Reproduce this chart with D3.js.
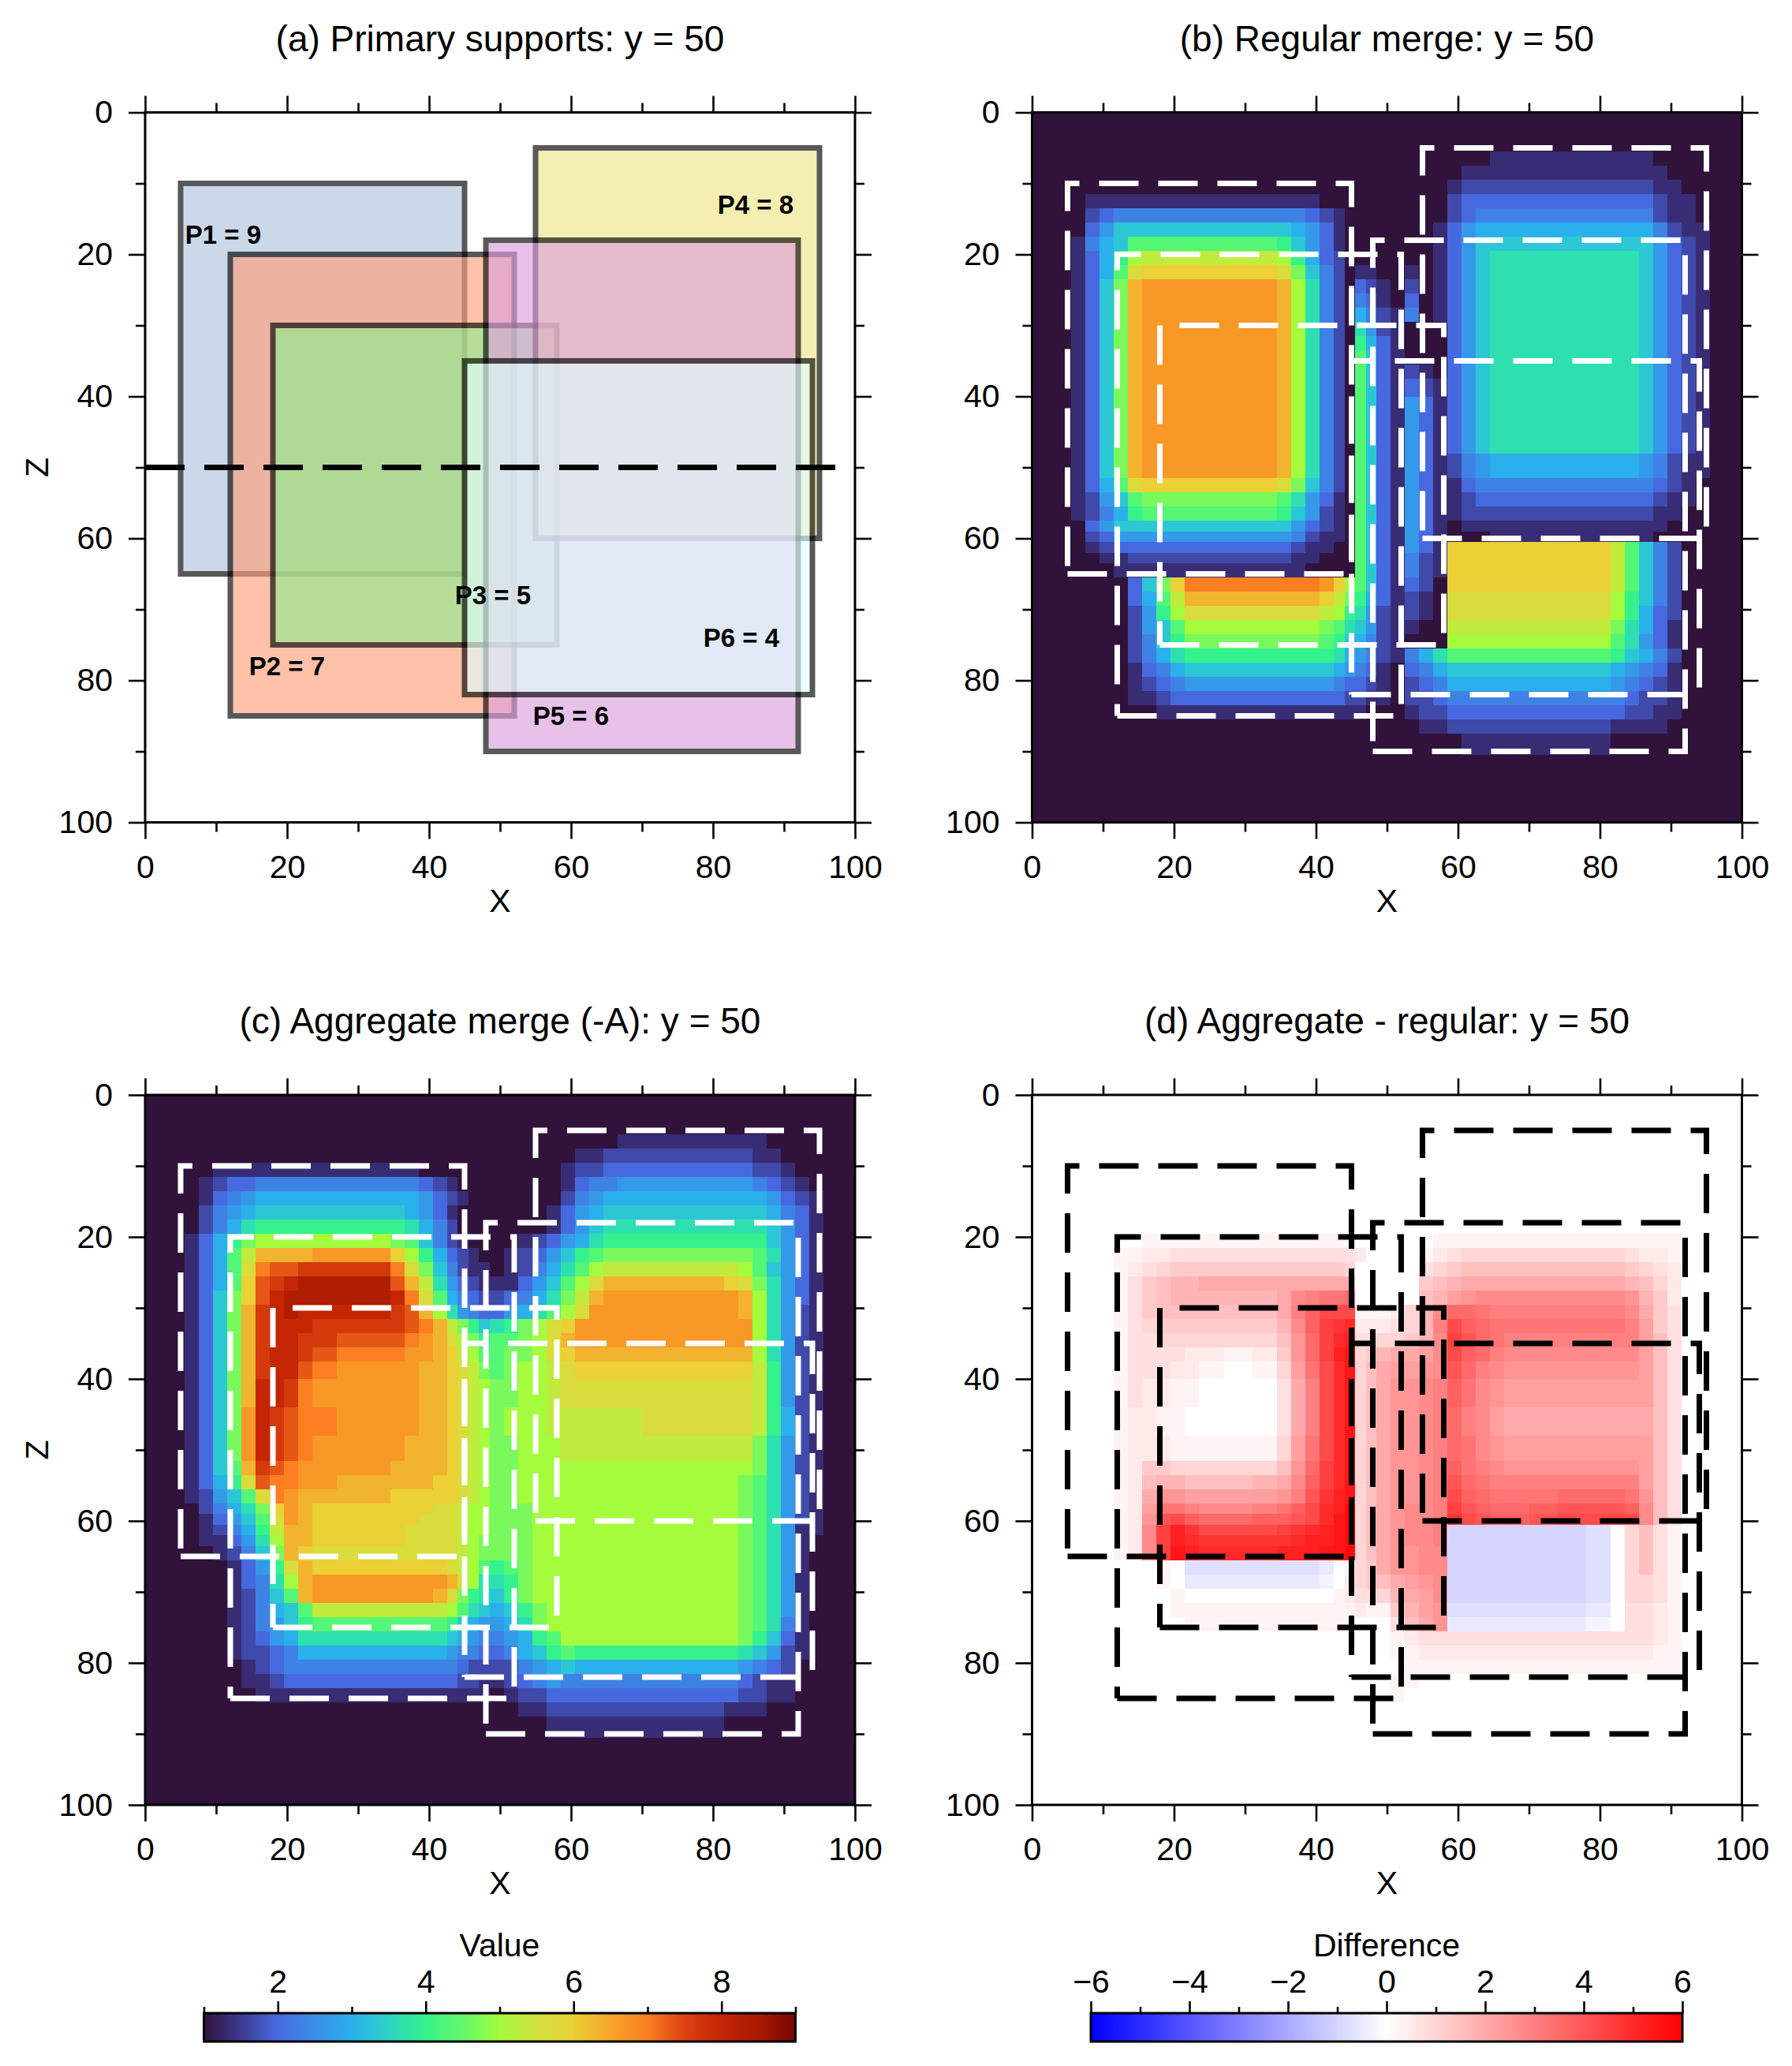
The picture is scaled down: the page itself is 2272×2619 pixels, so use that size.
<!DOCTYPE html>
<html>
<head>
<meta charset="utf-8">
<style>
  html, body { margin: 0; padding: 0; background: #fff; }
  svg { display: block; }
  text { font-family: "Liberation Sans", Arial, sans-serif; fill: #000; }
  .tick line { stroke: #000; stroke-width: 2.6; }
</style>
<script src="https://cdn.jsdelivr.net/npm/d3@7"></script>
</head>
<body>
<svg id="chart"></svg>
<script>
// supports, x and z in data units
const supportNames = ['P1', 'P2', 'P3', 'P4', 'P5', 'P6'];
const supportValues = [9, 7, 5, 8, 6, 4];
const supportX0 = [5, 12, 18, 55, 48, 45];
const supportX1 = [45, 52, 58, 95, 92, 94];
const supportZ0 = [10, 20, 30, 5, 18, 35];
const supportZ1 = [65, 85, 75, 60, 90, 82];
const supportColors = ['lightsteelblue', 'lightsalmon', 'lightgreen', 'khaki', 'plum', 'lightcyan'];
const labelX = [11, 20, 49, 86, 60, 84];
const labelZ = [17.2, 78, 68, 13, 85, 74];

// cell edges of the grids (finer on the ramps)
const xBreaks = [5.5, 7.5, 9.5, 11.5, 13.5, 15.5, 17.5, 19.5, 21.5, 23.5, 27, 31, 34.5, 36.5, 38.5, 40.5, 42.5, 44, 45.5, 47,
  48.5, 50.5, 52.5, 54.5, 56.5, 58.5, 60.5, 62.5, 64.5, 66.5, 70, 74, 78, 81.5, 83.5, 85.5, 87.5, 89.5, 91.5, 93.5, 95.5];
const zBreaks = [5.5, 7.5, 9.5, 11.5, 13.5, 15.5, 17.5, 19.5, 21.5, 23.5, 25.5, 27.5, 29.5, 31.5, 33.5, 35.5, 37.5, 40, 44, 48,
  51.5, 53.5, 55.5, 57.5, 59, 60.5, 62, 63.5, 65.5, 67.5, 69.5, 71.5, 73.5, 75.5, 77.5, 79.5, 81.5, 83.5, 85.5, 87.5, 90.5];

// estimated cell values, one letter per cell: a = 1, then +1/3 per letter (d = 2, g = 3, j = 4, m = 5, p = 6, s = 7, v = 8, y = 9)
const regularRows = [
  'aaaaaaaaaa aaaaaaaaaa aaaaaaaabb bbbbbbaaaa',
  'aaaaaaaaaa aaaaaaaaaa aaaaaabbbb bbbbbbbaaa',
  'aaaaaaaaaa aaaaaaaaaa aaaaabcccc ccccccbbaa',
  'abbbbbbbbb bbbbbaaaaa aaaaacdddd ddddddcbba',
  'acdeeeeeee eeeedcbaaa aaaaacdeee eeeeeecbba',
  'adfhhhhhhh hhhgfdbaaa aaaabdfggg ggggggecbb',
  'beghkkkkkk kkjhfdbaaa aaaabdfhhh hhhhhhfdcb',
  'bdgjmnnnnn nnmjgdcaaa aaaabdfhii iiiiihfdcb',
  'bdgkoppppp ppolhecabb aababdfhii iiiiihfdcb',
  'bdhlqrrrrr rrqmiecadc bacabdfhii iiiiihfdcb',
  'bdhlqrrrrr rrqmiecaed badabdfhii iiiiihfdcb',
  'bdhlqrrrrr rrqmiecage cbeabdfhii iiiiihfdcb',
  'bdhlqrrrrr rrqmiecaif cbaaadfhii iiiiihfdcb',
  'bdhlqrrrrr rrqmiecajg dbaaadfhii iiiiihfdcb',
  'bdhlqrrrrr rrqmiecakh dbaaadfhii iiiiihfdcb',
  'bdhlqrrrrr rrqmiecakh dbcbadfhii iiiiihfdcb',
  'bdhlqrrrrr rrqmiecakh dbdcbdfhii iiiiihfdcb',
  'bdhlqrrrrr rrqmiecakh dbfdbdfhii iiiiihfdcb',
  'bdhlqrrrrr rrqmiecakh dbfdbdfhii iiiiihfdcb',
  'bdhlqrrrrr rrqmiecakh dbfdbcefgg gggggfecbb',
  'bdgkoppppp ppolhecakh dbfdbbdeee eeeeeedcba',
  'bcfhklllll llkifdbakh dbfdbbcddd ddddddcbba',
  'bcegjkkkkk kkjhfcbakh dbfdbbcccc ccccccbbaa',
  'adfhhhhhhh hhhfdcbakh dbfdbabbbb bbbbbbbaaa',
  'acdfffffff fffecbbakh dbfdbaaabb bbbbbbaaaa',
  'abcddddddd dddcbbaakh dbfdbppppp pppnkhecaa',
  'aabbcccccc cccbbaaakh dbecbppppp pppnkhecaa',
  'aaabbbbbbb bbbbaaaakh dbecbppppp pppnkhecaa',
  'aaaadhlpss sssssrpmkh dbdcappppp pppnkhecaa',
  'aaaadgknqq qqqqqpnljg dbcbaooooo ooomjhecaa',
  'aaaacfjmoo ooooonmjif cbcbaooooo ooomjgdcaa',
  'aaaacfhkmm mmmmmlkihf cbbaannnnn nnnligdbaa',
  'aaaacehjll lllllkjhge cbaaammmmm mmmkifdbaa',
  'aaaacegijj jjjjjjigfe cbegikkkkk kkkjhgecaa',
  'aaaabdeghh hhhhhhgfed badeghhhhh hhhgfedbaa',
  'aaaabcdeff ffffffeddc bacdeggggg gggfedcbaa',
  'aaaabbcddd dddddddccb baccdeeeee eeeedccbaa',
  'aaaaaabbbb bbbbbbbbba aabccddddd ddddccbbaa',
  'aaaaaaaaaa aaaaaaaaaa aaabbccccc cccbbbbaaa',
  'aaaaaaaaaa aaaaaaaaaa aaaaaabbbb bbbaaaaaaa'
];

const aggregateRows = [
  'aaaaaaaaaa aaaaaaaaaa aaaaaaaaab bbbbbbaaaa',
  'aaaaaaaaaa aaaaaaaaaa aaaaaabbcc cccccbbaaa',
  'aabbbbbbbb bbbbaaaaaa aaaaabccdd dddddccbaa',
  'abcddeeeee eeeedcbaaa aaaaabdeef fffffedcba',
  'abdefggggg ggggfdcbaa aaaaacefgg ggggggfdcb',
  'acefghhhhh hhhgfdbaaa aaaabdfghh hhhhhhgedb',
  'acegijjjjj jjjigecaaa aaaabdfhii iiiiiihfdb',
  'bdgjlmmmmm mmlkhecbaa aabcdfgijj jjjjjjhfdb',
  'bdgknqqqqr rrpmjgdcba abcdfhjkll lllllkifdb',
  'bdgkosttuu uusolhecbb abcegikmnn nnnnmkhfdb',
  'bdgkptuvww wwtqnifdcb bbdfhkmoqq qqqpolifdb',
  'bdhlptvwww wwvsokgedc cdegilnqrr rrrrqmifdb',
  'bdhlquvwvv vvutqmifed dfgikmorrr rrrrqmifcb',
  'bdhlquvvvu uuutsqnljh ijlmoprrrr rrrrrmifcb',
  'bdhlquvvuu tttsrqomlj kklmoqrrrr rrrrrmifcb',
  'bdhlquvvut sssrrqpnmk kllmopqqqq qqqqqmifcb',
  'bdhlquvvts rrrrqqponl klmmnopppp pppppnjfcb',
  'bdhlqvvusr rrrrqqponm llmmnooooo ooooonjfcb',
  'bdhlrvutss rrrrqqponm lmmmnnnnnn ooooonjgcb',
  'bdhlrvutsr rrrqqqponm llmmmnnnnn nnnnnlifcb',
  'bdhkqutsrr rrqqqqponm llmmmmmmmm mmmmmlifcb',
  'bdgjotssrr qqqqqpponm llmmmmmmmm mmmmlkifcb',
  'bcfhkosrqq qqppppponm llmmmmmmmm mmmmlkifcb',
  'acegilprqp pppppoonmm lllmmmmmmm mmmmlkifcb',
  'abdfhkorqp ppppooonmm lllmmmmmmm mmmmlkifcb',
  'abcegjnqqp pppoooonmm lllmmmmmmm mmmmlkifbb',
  'abbdfimqqp pppoooonml lllmmmmmmm mmmmlkifba',
  'aabcehlqpo ooooooonml lllmmmmmmm mmmmlkifba',
  'aaabdfjoqp pppppponmk jklmmmmmmm mmmmlkifba',
  'aaabdeimqr rrrrrrqomi ijlmmmmmmm mmmmlkifba',
  'aaabcehkqr rrrrrqolji hjlmmmmmmm mmmmlkifba',
  'aaabceghkn nnnnnnmkih ghjlmmmmmm mmmmlkifba',
  'aaabcefhjk kkkkkkjhgf fgilmmmmmm mmmmlkieba',
  'aaabcdfgii iiiiiihgfe efgjkmmmmm mmmmljhdba',
  'aaabccdegg ggggggfeed deghjkjjjj jjjjihfcba',
  'aaaabcdeee eeeeeeedcc ccefghgggg ggggfedcaa',
  'aaaabbcddd dddddddccb bcdefeeeee eeeedcbbaa',
  'aaaaabbbbb bbbbbbbbbb abccdddddd ddddccbbaa',
  'aaaaaaaaaa aaaaaaaaaa aabbcccccc cccbbbaaaa',
  'aaaaaaaaaa aaaaaaaaaa aaaabbbbbb bbbaaaaaaa'
];

// estimated differences: . = 0, a..x = +0.25..+6 (d = 1, h = 2, l = 3, p = 4, t = 5, x = 6), A..D = -0.25..-1
const differenceRows = [
  '.......... .......... .......... ..........',
  '.......... .......... .......... ..........',
  '.......... .......... .......... ..........',
  '.......... .......... .......... ..........',
  '.......... .......... .......... ..........',
  '.......... .......... .......... ..........',
  '.......... .......... .......... ..........',
  '.....aaaaa aaaaaaaa.. ....aaaaaa aaaaaaaa..',
  '...aabbccc ccccccccb. ...abcdddd ddddcbba..',
  '...abcdeee eeeeeeed.. ...cdeffff ffffedcb..',
  '...acefggh hhhhhhhh.. ...efghhhh hhhhgfdb..',
  '...acefggg gghklmmn.. ...fgijkkk kkkkjgeb..',
  '...aceffff ffhloqqqaa abdgknnmll llllkhec..',
  '...acdeeee eegkorstbb bcdglqonmm mmmmliec..',
  '...accdddd ddfjnrtucc ddegkrpnml lllllifc..',
  '...accccbb abejnruvde ghhikqonlk kkkkkifc..',
  '...acccbba .adimqtvdf hiijkpnlkj jjjjjifc..',
  '...acbbaa. ..chlqtvdf hjjklomkji iiiiiifc..',
  '...abbaa.. ..chlqtvdf hjjklnlkih hhhhhhfc..',
  '...abbbaaa aadimqtvdf hjjklnmkji iiiiiifc..',
  '...abeeddd ddfjnrtvdf hjjklomlkj jjjjjifc..',
  '...abfggff fghkortvdf hjjklpnmll lllllifc..',
  '...abhjjii iijlpsuvdf hjjklqonmm mnnnmjfc..',
  '...abimmlk klmoqtuwdf hjkklrponn opppokfc..',
  '...abjpqon noopqtvwdf hjkklsqpoo pqqqqkfc..',
  '...abkrusq qqrstuvwdf hjkklDDDDD DDC.dfca..',
  '...abkruts ssstuuvwdf hjkklDDDDD DDC.dfca..',
  '...abkrvut ttuuuvvwdf hjjkkDDDDD DDC.dfca..',
  '......a.CC CCCCCB.ade hjjkkDDDDD DDC.dfca..',
  '......a.BB BBBBBA.bde fhijkDDDDD DDC.ddca..',
  '.......a.. ......abcc dghikDDDDD DDC.ddca..',
  '.......aaa aaaaaaaaba aegijCCCCC CCB.ccba..',
  '........aa aaaaaaaa.. .cfhjBBBBB BBA.ccba..',
  '.......... .......... .abccccccc ccccccba..',
  '.......... .......... .aabbbbbbb bbbbbbaa..',
  '.......... .......... ..aaaaaaaa aaaaaaaa..',
  '.......... .......... .aa....... ..........',
  '.......... .......... .a........ ..........',
  '.......... .......... .......... ..........',
  '.......... .......... .......... ..........'
];

// colour tables
const valueStops = [1, 1.5, 2, 2.5, 3, 3.3, 3.66, 4, 4.5, 5, 5.5, 6, 6.5, 7, 7.5, 8, 8.5, 9];
const valueColors = ['#30123b', '#3c3a90', '#4669e0', '#3b8ee8', '#2ab0ea', '#2cc4d8', '#2ee0b0', '#35f28c', '#64f86a',
  '#a4fc3c', '#d0e23e', '#ebd036', '#f6a52a', '#fb7e21', '#dc4310', '#c42503', '#a61a02', '#7a0403'];
const diffStops = [-6, 0, 6];
const diffColors = ['#0000ff', '#ffffff', '#ff0000'];
const valueBarTicks = [1, 2, 3, 4, 5, 6, 7, 8, 9];
const diffBarTicks = [-6, -5, -4, -3, -2, -1, 0, 1, 2, 3, 4, 5, 6];

const majorTicks = [0, 20, 40, 60, 80, 100];
const minorTicks = [10, 30, 50, 70, 90];

const size = 900;
const fullW = 2272, fullH = 2619;
const leftCol = 184, rightCol = 1308.5, topRow = 142.5, botRow = 1388;
const lineW = 7;

const svg = d3.select('#chart').attr('width', fullW).attr('height', fullH);
const xScale = d3.scaleLinear().domain([0, 100]).range([0, size]);
const zScale = d3.scaleLinear().domain([0, 100]).range([0, size]);
const valueColor = d3.scaleLinear().domain(valueStops).range(valueColors).clamp(true);
const diffColor = d3.scaleLinear().domain(diffStops).range(diffColors).clamp(true);

const decodeValue = c => 'abcdefghijklmnopqrstuvwxy'.indexOf(c) / 3 + 1;
const decodeDiff = c => {
  if (c === '.') return 0;
  const up = 'ABCDEFGH'.indexOf(c);
  if (up >= 0) return -(up + 1) * 0.25;
  return ('abcdefghijklmnopqrstuvwx'.indexOf(c) + 1) * 0.25;
};

function drawGrid(g, rows, decode, color, background) {
  g.append('rect').attr('width', size).attr('height', size).attr('fill', background);
  const cells = [];
  rows.forEach((row, j) => {
    row.replace(/ /g, '').split('').forEach((c, i) => {
      cells.push({ i, j, v: decode(c) });
    });
  });
  g.append('g').selectAll('rect')
    .data(cells)
    .enter()
    .append('rect')
    .attr('x', d => xScale(xBreaks[d.i]))
    .attr('y', d => zScale(zBreaks[d.j]))
    .attr('width', d => xScale(xBreaks[d.i + 1]) - xScale(xBreaks[d.i]))
    .attr('height', d => zScale(zBreaks[d.j + 1]) - zScale(zBreaks[d.j]))
    .attr('fill', d => color(d.v))
    .attr('shape-rendering', 'crispEdges');
}

function drawOutlines(g, color) {
  const line = d3.line().x(d => xScale(d[0])).y(d => zScale(d[1]));
  supportNames.forEach((name, i) => {
    const pts = [
      [supportX0[i], supportZ1[i]],
      [supportX1[i], supportZ1[i]],
      [supportX1[i], supportZ0[i]],
      [supportX0[i], supportZ0[i]],
      [supportX0[i], supportZ1[i]]
    ];
    g.append('path')
      .attr('d', line(pts))
      .attr('fill', 'none')
      .attr('stroke', color)
      .attr('stroke-width', lineW)
      .attr('stroke-dasharray', '50 25');
  });
}

function drawFrame(g, title) {
  g.append('rect').attr('width', size).attr('height', size)
    .attr('fill', 'none').attr('stroke', '#000').attr('stroke-width', 3);

  const sides = [
    [d3.axisBottom(xScale), `translate(0,${size})`, true],
    [d3.axisLeft(zScale), 'translate(0,0)', true],
    [d3.axisTop(xScale), 'translate(0,0)', false],
    [d3.axisRight(zScale), `translate(${size},0)`, false]
  ];
  sides.forEach(([axis, pos, labelled]) => {
    const major = g.append('g')
      .attr('transform', pos)
      .call(axis.tickValues(majorTicks).tickSize(21).tickPadding(20).tickFormat(labelled ? d3.format('d') : ''));
    major.select('.domain').remove();
    major.selectAll('text').style('font-size', '41px');
    const minor = g.append('g')
      .attr('transform', pos)
      .call(axis.tickValues(minorTicks).tickSize(12).tickFormat(''));
    minor.select('.domain').remove();
  });

  g.append('text')
    .attr('x', size / 2).attr('y', -78)
    .attr('text-anchor', 'middle')
    .style('font-size', '46px')
    .text(title);
  g.append('text')
    .attr('x', size / 2).attr('y', size + 113)
    .attr('text-anchor', 'middle')
    .style('font-size', '41px')
    .text('X');
  return g;
}

function addZLabel(g) {
  g.append('text')
    .attr('transform', `translate(-123,${size / 2}) rotate(-90)`)
    .attr('text-anchor', 'middle')
    .style('font-size', '41px')
    .text('Z');
}

// (a) primary supports
const panelA = svg.append('g').attr('transform', `translate(${leftCol},${topRow})`);
supportNames.forEach((name, i) => {
  panelA.append('rect')
    .attr('x', xScale(supportX0[i]))
    .attr('y', zScale(supportZ0[i]))
    .attr('width', xScale(supportX1[i]) - xScale(supportX0[i]))
    .attr('height', zScale(supportZ1[i]) - zScale(supportZ0[i]))
    .attr('fill', supportColors[i])
    .attr('stroke', '#000')
    .attr('stroke-width', lineW)
    .attr('opacity', 0.65);
});
panelA.append('line')
  .attr('x1', xScale(0)).attr('x2', xScale(100))
  .attr('y1', zScale(50)).attr('y2', zScale(50))
  .attr('stroke', '#000').attr('stroke-width', lineW)
  .attr('stroke-dasharray', '50 25');
supportNames.forEach((name, i) => {
  panelA.append('text')
    .attr('x', xScale(labelX[i]))
    .attr('y', zScale(labelZ[i]))
    .attr('dy', '0.36em')
    .attr('text-anchor', 'middle')
    .style('font-size', '33px')
    .style('font-weight', 'bold')
    .text(`${name} = ${supportValues[i]}`);
});
drawFrame(panelA, '(a) Primary supports: y = 50');
addZLabel(panelA);

// (b) regular merge
const panelB = svg.append('g').attr('transform', `translate(${rightCol},${topRow})`);
drawGrid(panelB, regularRows, decodeValue, valueColor, valueColors[0]);
drawOutlines(panelB, '#fff');
drawFrame(panelB, '(b) Regular merge: y = 50');

// (c) aggregate merge
const panelC = svg.append('g').attr('transform', `translate(${leftCol},${botRow})`);
drawGrid(panelC, aggregateRows, decodeValue, valueColor, valueColors[0]);
drawOutlines(panelC, '#fff');
drawFrame(panelC, '(c) Aggregate merge (-A): y = 50');
addZLabel(panelC);

// (d) difference
const panelD = svg.append('g').attr('transform', `translate(${rightCol},${botRow})`);
drawGrid(panelD, differenceRows, decodeDiff, diffColor, '#fff');
drawOutlines(panelD, '#000');
drawFrame(panelD, '(d) Aggregate - regular: y = 50');

// colour bars
function drawBar(x0, stops, colors, id, ticks, labelled, title) {
  const barW = 750, barH = 36, barY = 2552;
  const scale = d3.scaleLinear().domain([ticks[0], ticks[ticks.length - 1]]).range([0, barW]);
  const grad = svg.append('defs').append('linearGradient').attr('id', id);
  stops.forEach((s, i) => {
    grad.append('stop')
      .attr('offset', (s - stops[0]) / (stops[stops.length - 1] - stops[0]))
      .attr('stop-color', colors[i]);
  });
  const bar = svg.append('g').attr('transform', `translate(${x0},${barY})`);
  bar.append('rect').attr('width', barW).attr('height', barH)
    .attr('fill', `url(#${id})`)
    .attr('stroke', '#000').attr('stroke-width', 3);
  const major = bar.append('g').call(d3.axisTop(scale)
    .tickValues(ticks.filter(labelled)).tickSize(15).tickPadding(11)
    .tickFormat(d => (d < 0 ? '\u2212' + Math.abs(d) : d)));
  major.select('.domain').remove();
  major.selectAll('text').style('font-size', '41px');
  const minor = bar.append('g').call(d3.axisTop(scale)
    .tickValues(ticks.filter(d => !labelled(d))).tickSize(8).tickFormat(''));
  minor.select('.domain').remove();
  bar.append('text')
    .attr('x', barW / 2).attr('y', -72)
    .attr('text-anchor', 'middle')
    .style('font-size', '41px')
    .text(title);
}
drawBar(258.5, valueStops, valueColors, 'valueBar', valueBarTicks, d => d % 2 === 0, 'Value');
drawBar(1383, diffStops, diffColors, 'diffBar', diffBarTicks, d => d % 2 === 0, 'Difference');
</script>
</body>
</html>
